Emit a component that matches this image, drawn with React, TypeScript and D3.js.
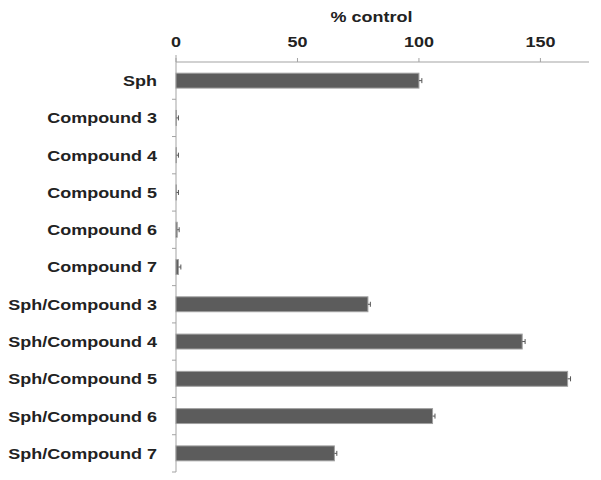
import React from 'react';
import * as d3 from 'd3';

const categories = [
  'Sph',
  'Compound 3',
  'Compound 4',
  'Compound 5',
  'Compound 6',
  'Compound 7',
  'Sph/Compound 3',
  'Sph/Compound 4',
  'Sph/Compound 5',
  'Sph/Compound 6',
  'Sph/Compound 7',
];
const values = [100, 0.2, 0.2, 0.2, 0.5, 1, 79, 142.5, 161.2, 105.6, 65.2];
const errors = [1.2, 0.8, 0.8, 0.8, 0.8, 1, 1, 1.2, 1.2, 1, 1];
const xTicks = [0, 50, 100, 150];

const width = 601;
const height = 480;
const marginTop = 62;
const marginLeft = 176;
const marginBottom = 8;
const plotRight = 589;

// text in the picture is stretched sideways a bit
const stretch = 1.16;
const font = '"Liberation Sans", Arial, sans-serif';
const textColor = '#222';
const axisColor = '#a3a3a3';

export default function App() {
  const x = d3.scaleLinear([0, 170], [marginLeft, plotRight]);
  const y = d3
    .scaleBand<string>()
    .domain(categories)
    .range([marginTop, height - marginBottom])
    .paddingInner(0.6)
    .paddingOuter(0.3);
  const step = y.step();
  const bandTop = (c: string) => (y(c) as number) - step * y.paddingInner() / 2;
  const bh = y.bandwidth();

  return (
    <svg
      width={width}
      height={height}
      viewBox={`0 0 ${width} ${height}`}
      style={{ position: 'absolute', left: 0, top: 0, background: '#fff' }}
      fontFamily={font}
      fontWeight="bold"
    >
      {/* title */}
      <text
        transform={`translate(${x(85) - 11},21.5) scale(${stretch},1)`}
        textAnchor="middle"
        fontSize={15.5}
        fill={textColor}
      >
        % control
      </text>

      {/* x axis on top */}
      <line x1={x(0)} x2={plotRight} y1={marginTop} y2={marginTop} stroke={axisColor} />
      {xTicks.map((t) => (
        <g key={t}>
          <line x1={x(t)} x2={x(t)} y1={marginTop - 4} y2={marginTop} stroke={axisColor} />
          <text
            transform={`translate(${x(t)},47) scale(${stretch},1)`}
            textAnchor="middle"
            fontSize={15.5}
            fill={textColor}
          >
            {t}
          </text>
        </g>
      ))}

      {/* y axis */}
      <line x1={marginLeft} x2={marginLeft} y1={marginTop - 7} y2={height - marginBottom} stroke={axisColor} />
      {categories.map((c) => (
        <line
          key={'t' + c}
          x1={marginLeft - 4}
          x2={marginLeft}
          y1={bandTop(c) + step}
          y2={bandTop(c) + step}
          stroke={axisColor}
        />
      ))}

      {/* bars */}
      {categories.map((c, i) => {
        const yc = (y(c) as number) + bh / 2;
        const xe = x(values[i] + errors[i]);
        return (
          <g key={c}>
            <rect
              x={x(0)}
              y={y(c)}
              width={Math.max(x(values[i]) - x(0), 0.5)}
              height={bh}
              fill="#5c5c5c"
              stroke="#a0a0a0"
              strokeWidth={1}
            />
            <line x1={x(values[i])} x2={xe} y1={yc} y2={yc} stroke="#555" strokeWidth={1} />
            <line x1={xe} x2={xe} y1={yc - 2.5} y2={yc + 2.5} stroke="#555" strokeWidth={1} />
            <text
              transform={`translate(157,${yc}) scale(${stretch},1)`}
              textAnchor="end"
              dy="0.35em"
              fontSize={15.5}
              fill={textColor}
            >
              {c}
            </text>
          </g>
        );
      })}
    </svg>
  );
}
